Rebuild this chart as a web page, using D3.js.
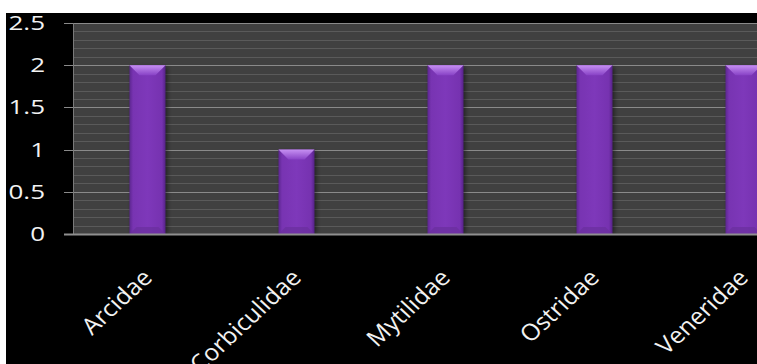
<!DOCTYPE html>
<html>
<head>
<meta charset="utf-8">
<script src="https://cdn.jsdelivr.net/npm/d3@7"></script>
<style>
  body { margin: 0; background: #fff; }
  svg { display: block; }
  text { font-family: "Open Sans", sans-serif; fill: #f2f2f2; }
</style>
</head>
<body>
<div></div>
<script>
const categories = ["Arcidae", "Corbiculidae", "Mytilidae", "Ostridae", "Veneridae"];
const values = [2, 1, 2, 2, 2];
const yTicks = [0, 0.5, 1, 1.5, 2, 2.5];
const yMinorTicks = d3.range(1, 25).map(d => d / 10);

document.addEventListener('DOMContentLoaded', function() {
  const w = 757;
  const h = 364;
  const left = 73, top = 23, bottom = 234;

  const svg = d3.select("div")
    .append("svg")
    .attr("width", w)
    .attr("height", h);

  const defs = svg.append("defs");
  const body = defs.append("linearGradient").attr("id", "barBody").attr("x1", 0).attr("x2", 1).attr("y1", 0).attr("y2", 0);
  body.append("stop").attr("offset", "0%").attr("stop-color", "#5c2690");
  body.append("stop").attr("offset", "10%").attr("stop-color", "#7834b2");
  body.append("stop").attr("offset", "50%").attr("stop-color", "#7e38ba");
  body.append("stop").attr("offset", "90%").attr("stop-color", "#7632b0");
  body.append("stop").attr("offset", "100%").attr("stop-color", "#552287");
  const bevel = defs.append("linearGradient").attr("id", "barTop").attr("x1", 0).attr("x2", 0).attr("y1", 0).attr("y2", 1);
  bevel.append("stop").attr("offset", "0%").attr("stop-color", "#c690f2");
  bevel.append("stop").attr("offset", "100%").attr("stop-color", "#8842c6");
  const blur = defs.append("filter").attr("id", "shadow").attr("x", "-50%").attr("width", "200%");
  blur.append("feGaussianBlur").attr("stdDeviation", 2);

  // black chart area
  svg.append("rect")
    .attr("x", 6).attr("y", 13)
    .attr("width", w - 6).attr("height", h - 13)
    .attr("fill", "#000");

  const xScale = d3.scaleBand()
    .domain(categories)
    .range([left, left + 5 * 149])
    .paddingInner(0.758)
    .paddingOuter(0.379);

  const yScale = d3.scaleLinear()
    .domain([0, 2.5])
    .range([bottom, top]);

  // plot background
  svg.append("rect")
    .attr("x", left).attr("y", top)
    .attr("width", w - left).attr("height", bottom - top)
    .attr("fill", "#404040");

  svg.selectAll("line.minor")
    .data(yMinorTicks.filter(d => Math.round(d * 10) % 5 != 0))
    .enter()
    .append("line")
    .attr("class", "minor")
    .attr("x1", left).attr("x2", w)
    .attr("y1", d => Math.round(yScale(d)) + 0.5)
    .attr("y2", d => Math.round(yScale(d)) + 0.5)
    .attr("stroke", "#5a5a5a");

  svg.selectAll("line.major")
    .data(yTicks.filter(d => d > 0))
    .enter()
    .append("line")
    .attr("class", "major")
    .attr("x1", left - 9).attr("x2", w)
    .attr("y1", d => Math.round(yScale(d)) + 0.5)
    .attr("y2", d => Math.round(yScale(d)) + 0.5)
    .attr("stroke", "#8a8a8a");

  // bars
  const bar = svg.selectAll("g.bar")
    .data(categories.map((c, i) => [c, values[i]]))
    .enter()
    .append("g")
    .attr("class", "bar");

  bar.append("rect")
    .attr("x", d => xScale(d[0]) + 2)
    .attr("y", d => yScale(d[1]) + 2)
    .attr("width", xScale.bandwidth())
    .attr("height", d => bottom - yScale(d[1]) - 2)
    .attr("fill", "#000")
    .attr("opacity", 0.45)
    .attr("filter", "url(#shadow)");

  bar.append("rect")
    .attr("x", d => xScale(d[0]))
    .attr("y", d => yScale(d[1]))
    .attr("width", xScale.bandwidth())
    .attr("height", d => bottom - yScale(d[1]))
    .attr("fill", "url(#barBody)");

  bar.append("polygon")
    .attr("points", d => {
      const x0 = xScale(d[0]), x1 = x0 + xScale.bandwidth(), y0 = yScale(d[1]);
      return [[x0, y0], [x1, y0], [x1 - 10, y0 + 10], [x0 + 10, y0 + 10]].join(" ");
    })
    .attr("fill", "url(#barTop)");

  bar.append("polygon")
    .attr("points", d => {
      const x0 = xScale(d[0]), x1 = x0 + xScale.bandwidth(), y0 = bottom;
      return [[x0, y0], [x1, y0], [x1 - 7, y0 - 7], [x0 + 7, y0 - 7]].join(" ");
    })
    .attr("fill", "#6a2f9c")
    .attr("opacity", 0.7);

  // axes
  svg.append("line")
    .attr("x1", left + 0.5).attr("x2", left + 0.5)
    .attr("y1", top).attr("y2", bottom)
    .attr("stroke", "#7a7a7a");
  svg.append("line")
    .attr("x1", left - 9).attr("x2", w)
    .attr("y1", bottom + 0.5).attr("y2", bottom + 0.5)
    .attr("stroke", "#8f8f8f")
    .attr("stroke-width", 2);

  svg.selectAll("text.ytick")
    .data(yTicks)
    .enter()
    .append("text")
    .attr("class", "ytick")
    .attr("text-anchor", "end")
    .attr("transform", d => "translate(45," + (yScale(d) + 7) + ") scale(1.3,1)")
    .style("font-size", "20px")
    .text(d => d);

  svg.selectAll("text.xlabel")
    .data(categories)
    .enter()
    .append("text")
    .attr("class", "xlabel")
    .attr("text-anchor", "end")
    .attr("transform", d => "translate(" + (xScale(d) + xScale.bandwidth() / 2 + 6) + ",279) scale(1.08,1) rotate(-45)")
    .style("font-size", "23px")
    .text(d => d);
});
</script>
</body>
</html>
